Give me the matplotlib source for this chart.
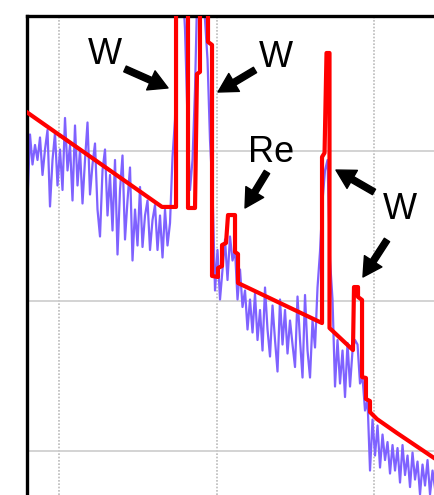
import matplotlib
matplotlib.use("Agg")
import matplotlib.pyplot as plt
import numpy as np
from matplotlib.ticker import NullLocator

# measured spectrum: log10(counts) per channel
e_start = 7.568   # keV, first channel
e_step = 0.03175  # keV per channel
meas_log = [
    2.07, 1.67, 2.11, 1.91, 2.04, 1.94, 2.09, 1.84, 2.01, 2.14,
    1.63, 1.94, 2.12, 1.77, 2.01, 1.74, 2.22, 1.87, 2.04, 1.67,
    2.17, 1.77, 2.01, 1.65, 1.94, 2.19, 1.71, 1.91, 2.05, 1.61,
    1.43, 1.87, 2.01, 1.57, 1.84, 1.47, 1.94, 1.31, 1.74, 1.97,
    1.41, 1.67, 1.89, 1.27, 1.61, 1.37, 1.76, 1.36, 1.57, 1.67,
    1.34, 1.54, 1.64, 1.34, 1.57, 1.29, 1.61, 1.37, 1.52, 1.96,
    2.21, 3.14, 3.14, 3.14, 2.81, 2.21, 1.74, 1.94, 2.41, 3.14,
    2.74, 3.14, 2.87, 2.61, 2.07, 1.74, 1.07, 1.34, 1.01, 1.21,
    1.41, 1.14, 1.43, 1.27, 1.34, 1.01, 1.21, 0.96, 1.07, 0.81,
    1.01, 0.79, 1.05, 0.74, 0.94, 0.67, 1.09, 0.81, 0.63, 0.97,
    0.74, 0.53, 1.01, 0.71, 0.94, 0.65, 0.87, 0.71, 0.56, 1.03,
    0.74, 0.49, 1.04, 0.67, 0.49, 0.87, 0.69, 1.09, 1.33, 1.67,
    1.87, 1.94, 1.27, 1.01, 0.43, 0.74, 0.45, 0.67, 0.36, 0.72,
    0.43, 0.67, 0.74, 0.71, 0.45, 0.49, 0.27, 0.34, -0.13, 0.21,
    -0.03, 0.17, -0.11, 0.11, -0.06, 0.06, -0.15, 0.04, -0.13, 0.02,
    -0.21, 0.04, -0.16, -0.03, -0.24, -0.01, -0.19, -0.07, -0.29, -0.09,
    -0.23, -0.06, -0.29, -0.13, -0.25,
]

# simulated spectrum (energy keV, log10 counts)
sim_energy = [
    7.56, 9.308, 9.486, 9.486, 9.638, 9.638, 9.727, 9.752, 9.790, 9.790,
    9.892, 9.892, 9.943, 9.943, 10.019, 10.019, 10.070, 10.070, 10.121, 10.146,
    10.235, 10.235, 10.273, 10.273, 11.340, 11.340, 11.372, 11.397, 11.435, 11.435,
    11.733, 11.746, 11.797, 11.797, 11.848, 11.848, 11.898, 11.898, 11.949, 11.949,
    12.038, 12.292, 12.838,
]
sim_log = [
    2.27, 1.627, 1.627, 3.14, 3.14, 1.62, 1.62, 2.513, 2.527, 3.14,
    3.14, 2.727, 2.707, 1.167, 1.16, 1.22, 1.233, 1.373, 1.387, 1.573,
    1.573, 1.327, 1.313, 1.12, 0.853, 1.96, 1.987, 2.653, 2.653, 0.82,
    0.673, 1.093, 1.093, 1.027, 1.007, 0.493, 0.487, 0.347, 0.333, 0.26,
    0.213, 0.12, -0.073,
]

# peak labels: (text, text pos, arrow tail, arrow tip)
labels = [
    ("W", (8.584, 2.64), (8.838, 2.547), (9.384, 2.42)),
    ("W", (10.756, 2.62), (10.489, 2.54), (10.019, 2.393)),
    ("Re", (10.692, 1.993), (10.641, 1.86), (10.362, 1.62)),
    ("W", (12.33, 1.607), (12.0, 1.727), (11.517, 1.873)),
    (None, None, (12.165, 1.407), (11.86, 1.16)),
]

W, H = 434, 495
fig = plt.figure(figsize=(W / 100, H / 100), dpi=100)
ax = fig.add_axes([26.5 / W, 0, 1 - 26.5 / W, 1 - 15.5 / H])

meas_energy = e_start + e_step * np.arange(len(meas_log))
ax.plot(meas_energy, 10 ** np.array(meas_log), color="#7f62ff", lw=1.6, zorder=2)
ax.plot(sim_energy, 10 ** np.array(sim_log), color="#ff0000", lw=3.0, zorder=3,
        solid_capstyle="round")

ax.set_yscale("log")
ax.set_xlim(7.587, 12.762)
ax.set_ylim(10 ** -0.293, 10 ** 2.903)
ax.set_xticks([8, 10, 12])
ax.set_yticks([1, 10, 100])
ax.yaxis.set_minor_locator(NullLocator())
ax.tick_params(length=0, labelbottom=False, labelleft=False)
ax.grid(True, axis="y", color="#cccccc", lw=1.2, ls="-")
ax.grid(True, axis="x", color="#bbbbbb", lw=1.2, ls=(0, (1, 1)))
ax.set_axisbelow(True)

for side in ["right", "bottom"]:
    ax.spines[side].set_visible(False)
for side in ["left", "top"]:
    ax.spines[side].set_linewidth(2.4)
    ax.spines[side].set_color("black")

for text, tpos, tail, tip in labels:
    if text:
        ax.text(tpos[0], 10 ** tpos[1], text, fontsize=26, family="Liberation Sans",
                ha="center", va="center", zorder=5)
    ax.annotate("", xy=(tip[0], 10 ** tip[1]), xytext=(tail[0], 10 ** tail[1]),
                arrowprops=dict(arrowstyle="simple,head_length=0.45,head_width=0.5,tail_width=0.15",
                                color="black", mutation_scale=30, shrinkA=0, shrinkB=0),
                zorder=5)

fig.savefig("out.png", dpi=100)
